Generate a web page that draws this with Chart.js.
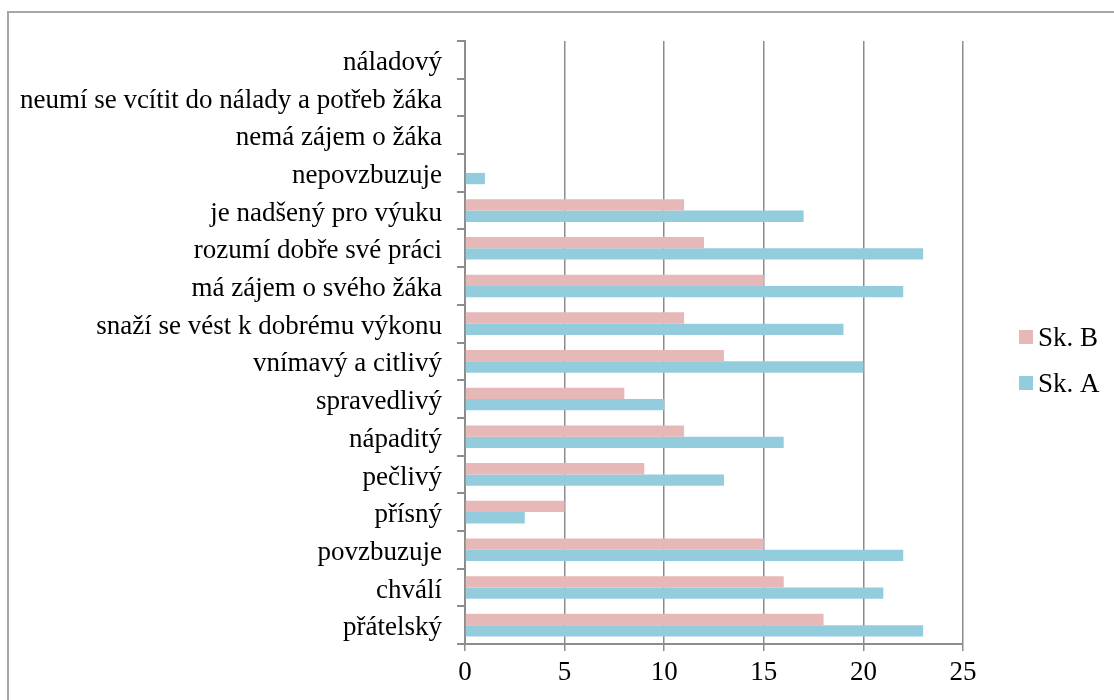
<!DOCTYPE html>
<html>
<head>
<meta charset="utf-8">
<script src="https://cdn.jsdelivr.net/npm/chart.js"></script>
<style>
  html, body { margin: 0; padding: 0; background: #fff; }
  #wrap { position: relative; width: 1114px; height: 700px; overflow: hidden; }
  #chart { position: absolute; left: 0; top: 0; }
  #frame {
    position: absolute; left: 7px; top: 11px; width: 1200px; height: 800px;
    border-left: 2px solid #a6a6a6; border-top: 2px solid #a6a6a6;
    pointer-events: none;
  }
</style>
</head>
<body>
<div id="wrap">
  <canvas id="chart" width="1114" height="700"></canvas>
  <div id="frame"></div>
</div>
<script>
// categories, listed top to bottom
const labels = [
  "náladový",
  "neumí se vcítit do nálady a potřeb žáka",
  "nemá zájem o žáka",
  "nepovzbuzuje",
  "je nadšený pro výuku",
  "rozumí dobře své práci",
  "má zájem o svého žáka",
  "snaží se vést k dobrému výkonu",
  "vnímavý a citlivý",
  "spravedlivý",
  "nápaditý",
  "pečlivý",
  "přísný",
  "povzbuzuje",
  "chválí",
  "přátelský"
];

const skB = [0, 0, 0, 0, 11, 12, 15, 11, 13, 8, 11, 9, 5, 15, 16, 18];
const skA = [0, 0, 0, 1, 17, 23, 22, 19, 20, 10, 16, 13, 3, 22, 21, 23];

const xTicks = [0, 5, 10, 15, 20, 25];

const FONT = "'Liberation Serif', 'Times New Roman', serif";
const GRID = "#8c8c8c";

// legend drawn on the canvas to the right of the plot
const sideLegend = {
  id: "sideLegend",
  afterDraw(chart) {
    const ctx = chart.ctx;
    ctx.save();
    ctx.font = "27px " + FONT;
    ctx.textBaseline = "middle";
    ctx.textAlign = "left";
    chart.data.datasets.forEach((ds, i) => {
      const cy = 337 + i * 46;
      ctx.fillStyle = ds.backgroundColor;
      ctx.fillRect(1019, cy - 7, 14, 14);
      ctx.fillStyle = "#000";
      ctx.fillText(ds.label, 1038, cy + 2);
    });
    ctx.restore();
  }
};

new Chart(document.getElementById("chart"), {
  type: "bar",
  data: {
    labels: labels,
    datasets: [
      { label: "Sk. B", data: skB, backgroundColor: "#e6b9b8" },
      { label: "Sk. A", data: skA, backgroundColor: "#93cddd" }
    ]
  },
  options: {
    indexAxis: "y",
    responsive: false,
    animation: false,
    categoryPercentage: 0.6,
    barPercentage: 1.0,
    layout: { padding: { top: 41, right: 151, bottom: 0, left: 0 } },
    plugins: {
      legend: { display: false },
      tooltip: { enabled: false }
    },
    scales: {
      x: {
        min: 0,
        max: 25,
        afterBuildTicks: scale => { scale.ticks = xTicks.map(v => ({ value: v })); },
        afterFit: scale => { scale.height = 56; },
        grid: { color: GRID, lineWidth: 1.5, tickLength: 7 },
        border: { color: GRID, width: 2 },
        ticks: { color: "#000", padding: 6, font: { family: FONT, size: 27 } }
      },
      y: {
        afterFit: scale => { scale.width = 465; },
        grid: { drawOnChartArea: false, color: GRID, lineWidth: 2, tickLength: 8, offset: true },
        border: { color: GRID, width: 2 },
        ticks: { color: "#000", padding: 15, labelOffset: 3, autoSkip: false, font: { family: FONT, size: 27 } }
      }
    }
  },
  plugins: [sideLegend]
});
</script>
</body>
</html>
